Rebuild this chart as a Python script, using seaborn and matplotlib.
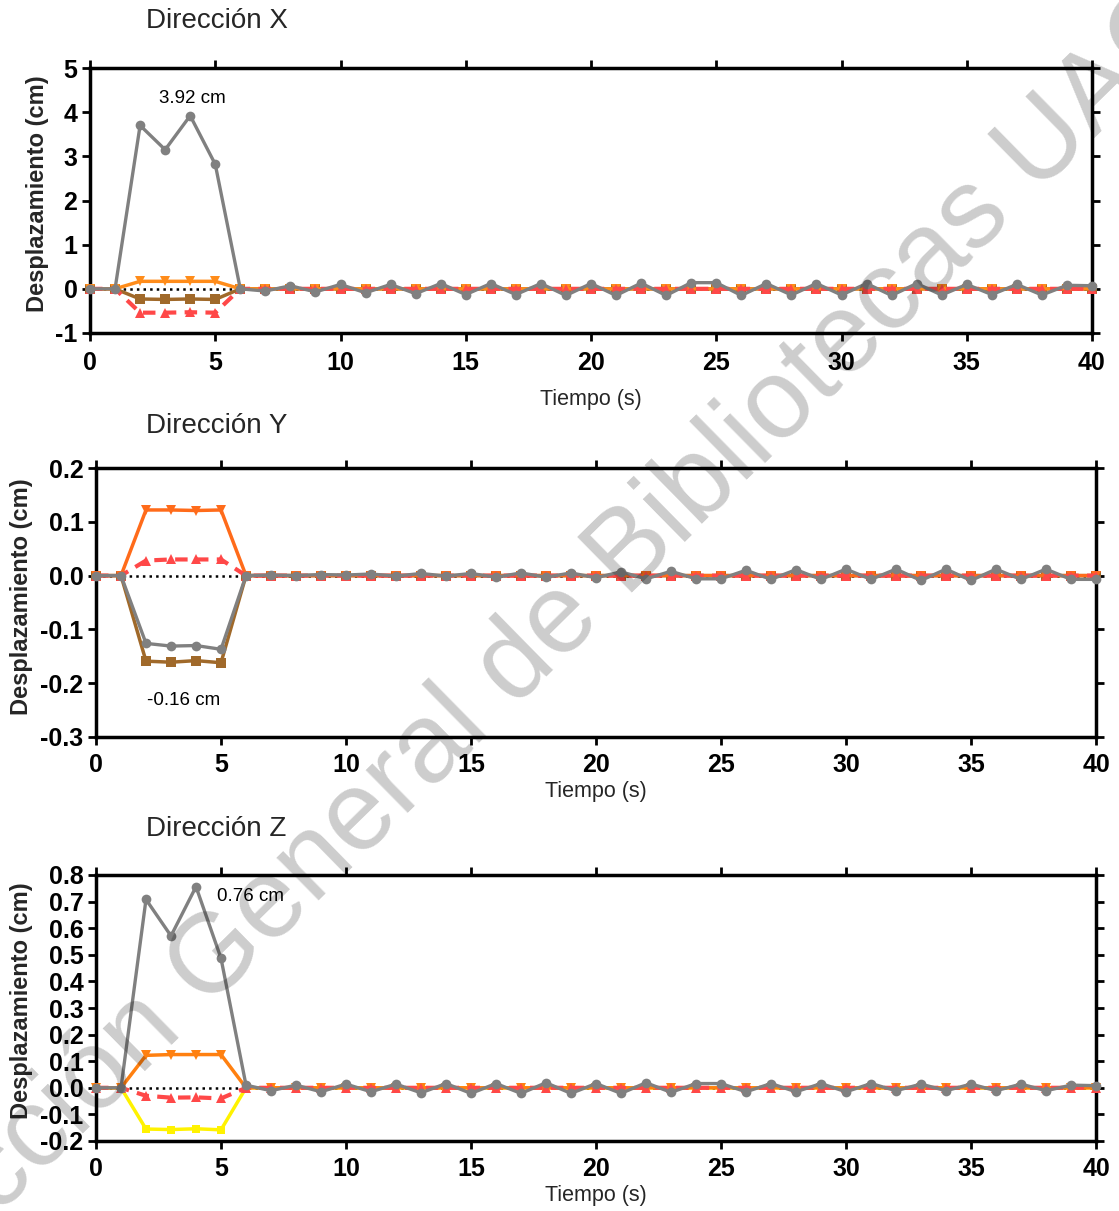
import matplotlib
matplotlib.use("Agg")
import matplotlib.pyplot as plt
import seaborn as sns

# ---------------- data ----------------
t = [0, 1, 2, 3, 4, 5, 6, 7, 8, 9, 10, 11, 12, 13, 14, 15, 16, 17, 18, 19, 20,
     21, 22, 23, 24, 25, 26, 27, 28, 29, 30, 31, 32, 33, 34, 35, 36, 37, 38, 39, 40]

# Dirección X
x_gray = [0, 0, 3.70, 3.15, 3.92, 2.82, 0.0, -0.05, 0.07, -0.07, 0.10, -0.09, 0.10, -0.11,
          0.12, -0.13, 0.12, -0.13, 0.12, -0.15, 0.12, -0.15, 0.13, -0.15, 0.14, 0.14,
          -0.15, 0.12, -0.14, 0.12, -0.14, 0.12, -0.15, 0.12, -0.14, 0.10, -0.13, 0.10,
          -0.14, 0.08, 0.07]
x_orange = [0, 0, 0.17, 0.17, 0.17, 0.17, 0, 0, 0, 0, 0, 0, 0, 0, 0, 0, 0, 0, 0, 0, 0,
            0, 0, 0, 0, 0, 0, 0, 0, 0, 0, 0, 0, 0, 0, 0, 0, 0, 0, 0, 0]
x_brown = [0, 0, -0.23, -0.24, -0.23, -0.24, 0, 0, 0, 0, 0, 0, 0, 0, 0, 0, 0, 0, 0, 0, 0,
           0, 0, 0, 0, 0, 0, 0, 0, 0, 0, 0, 0, 0, 0, 0, 0, 0, 0, 0, 0]
x_red = [0, 0, -0.54, -0.54, -0.53, -0.54, 0, 0, 0, 0, 0, 0, 0, 0, 0, 0, 0, 0, 0, 0, 0,
         0, 0, 0, 0, 0, 0, 0, 0, 0, 0, 0, 0, 0, 0, 0, 0, 0, 0, 0, 0]

# Dirección Y
y_gray = [0, 0, -0.126, -0.131, -0.130, -0.137, 0.0, 0.001, 0.0, 0.002, 0.001, 0.003,
          -0.001, 0.004, -0.001, 0.004, -0.003, 0.005, -0.003, 0.005, -0.004, 0.007,
          -0.006, 0.008, -0.006, -0.006, 0.010, -0.007, 0.011, -0.007, 0.012, -0.007,
          0.012, -0.009, 0.012, -0.009, 0.012, -0.007, 0.012, -0.007, -0.007]
y_orange = [0, 0, 0.122, 0.122, 0.121, 0.122, 0, 0, 0, 0, 0, 0, 0, 0, 0, 0, 0, 0, 0, 0, 0,
            0, 0, 0, 0, 0, 0, 0, 0, 0, 0, 0, 0, 0, 0, 0, 0, 0, 0, 0, 0]
y_brown = [0, 0, -0.159, -0.161, -0.158, -0.162, 0, 0, 0, 0, 0, 0, 0, 0, 0, 0, 0, 0, 0, 0, 0,
           0, 0, 0, 0, 0, 0, 0, 0, 0, 0, 0, 0, 0, 0, 0, 0, 0, 0, 0, 0]
y_red = [0, 0, 0.028, 0.030, 0.030, 0.030, 0, 0, 0, 0, 0, 0, 0, 0, 0, 0, 0, 0, 0, 0, 0,
         0, 0, 0, 0, 0, 0, 0, 0, 0, 0, 0, 0, 0, 0, 0, 0, 0, 0, 0, 0]

# Dirección Z
z_gray = [0, 0, 0.708, 0.571, 0.756, 0.487, 0.010, -0.011, 0.010, -0.015, 0.014, -0.015,
          0.014, -0.019, 0.016, -0.021, 0.016, -0.021, 0.019, -0.021, 0.016, -0.021,
          0.019, -0.017, 0.016, 0.016, -0.015, 0.016, -0.015, 0.016, -0.015, 0.016,
          -0.011, 0.014, -0.011, 0.014, -0.011, 0.014, -0.011, 0.010, 0.008]
z_orange = [0, 0, 0.122, 0.125, 0.125, 0.125, 0, 0, 0, 0, 0, 0, 0, 0, 0, 0, 0, 0, 0, 0, 0,
            0, 0, 0, 0, 0, 0, 0, 0, 0, 0, 0, 0, 0, 0, 0, 0, 0, 0, 0, 0]
z_yellow = [0, 0, -0.155, -0.157, -0.154, -0.158, 0, 0, 0, 0, 0, 0, 0, 0, 0, 0, 0, 0, 0, 0, 0,
            0, 0, 0, 0, 0, 0, 0, 0, 0, 0, 0, 0, 0, 0, 0, 0, 0, 0, 0, 0]
z_red = [0, 0, -0.030, -0.037, -0.036, -0.040, 0, 0, 0, 0, 0, 0, 0, 0, 0, 0, 0, 0, 0, 0, 0,
         0, 0, 0, 0, 0, 0, 0, 0, 0, 0, 0, 0, 0, 0, 0, 0, 0, 0, 0, 0]
zero_line = [0, 0, 0, 0, 0, 0, 0, 0, 0, 0, 0, 0, 0, 0, 0, 0, 0, 0, 0, 0, 0,
             0, 0, 0, 0, 0, 0, 0, 0, 0, 0, 0, 0, 0, 0, 0, 0, 0, 0, 0, 0]

x_ticks = [0, 5, 10, 15, 20, 25, 30, 35, 40]
x_ticklabels = ["0", "5", "10", "15", "20", "25", "30", "35", "40"]
yx_ticks = [-1, 0, 1, 2, 3, 4, 5]
yx_labels = ["-1", "0", "1", "2", "3", "4", "5"]
yy_ticks = [-0.3, -0.2, -0.1, 0.0, 0.1, 0.2]
yy_labels = ["-0.3", "-0.2", "-0.1", "0.0", "0.1", "0.2"]
yz_ticks = [-0.2, -0.1, 0.0, 0.1, 0.2, 0.3, 0.4, 0.5, 0.6, 0.7, 0.8]
yz_labels = ["-0.2", "-0.1", "0.0", "0.1", "0.2", "0.3", "0.4", "0.5", "0.6", "0.7", "0.8"]

titles = ["Dirección X", "Dirección Y", "Dirección Z"]
annotations = [("3.92 cm", 4.07, 4.30), ("-0.16 cm", 3.52, -0.232), ("0.76 cm", 6.17, 0.72)]
xlabel = "Tiempo (s)"
ylabel = "Desplazamiento (cm)"
watermark = "Dirección General de Bibliotecas UAQ"

# ---------------- style ----------------
sns.set_style("ticks")
plt.rcParams["font.family"] = ["Liberation Sans", "DejaVu Sans"]
plt.rcParams["axes.unicode_minus"] = False

GRAY = "#808080"
BROWN = "#A0692A"
RED = "#FF4848"
YELLOW = "#FFF200"

W, H = 1119, 1211
fig = plt.figure(figsize=(W / 100, H / 100), dpi=100)

def fx(px):
    return px / W

def fy(py):
    return 1 - py / H

ax_x = fig.add_axes([fx(90), fy(333), fx(1092) - fx(90), fy(68) - fy(333)])
ax_y = fig.add_axes([fx(96), fy(737), fx(1096) - fx(96), fy(468) - fy(737)])
ax_z = fig.add_axes([fx(96), fy(1141), fx(1096) - fx(96), fy(875) - fy(1141)])


def line(ax, vals, color, marker, ms, lw, ls="-", z=3):
    sns.lineplot(x=t, y=vals, ax=ax, color=color, marker=marker, markersize=ms,
                 linewidth=lw, linestyle=ls, markeredgewidth=0, clip_on=False,
                 zorder=z, legend=False, sort=False, estimator=None, errorbar=None)


panels = [
    (ax_x, [(zero_line, "black", None, 0, 1.8, ":", 2),
            (x_brown, BROWN, "s", 6.5, 2.5, "-", 3),
            (x_orange, "#FF8C1A", "v", 7.5, 2.5, "-", 4),
            (x_red, RED, "^", 7.5, 3.0, (0, (3, 2)), 5),
            (x_gray, GRAY, "o", 7, 2.4, "-", 6)],
     (-1, 5), yx_ticks, yx_labels, 7),
    (ax_y, [(zero_line, "black", None, 0, 1.8, ":", 2),
            (y_brown, BROWN, "s", 6.5, 2.5, "-", 3),
            (y_orange, "#FF6B1A", "v", 7.5, 2.5, "-", 4),
            (y_red, RED, "^", 7.5, 3.0, (0, (3, 2)), 5),
            (y_gray, GRAY, "o", 7, 2.4, "-", 6)],
     (-0.3, 0.2), yy_ticks, yy_labels, 5.5),
    (ax_z, [(zero_line, "black", None, 0, 1.8, ":", 2),
            (z_yellow, YELLOW, "s", 5.5, 2.5, "-", 3),
            (z_orange, "#FF8010", "v", 7.5, 2.5, "-", 4),
            (z_red, RED, "^", 7.5, 3.0, (0, (3, 2)), 5),
            (z_gray, GRAY, "o", 7, 2.4, "-", 6)],
     (-0.2, 0.8), yz_ticks, yz_labels, 5.5),
]

for ax, series, ylim, yt, yl, xpad in panels:
    for vals, color, marker, ms, lw, ls, z in series:
        line(ax, vals, color, marker, ms, lw, ls, z)
    ax.set_xlim(0, 40)
    ax.set_ylim(*ylim)
    ax.set_xticks(x_ticks)
    ax.set_xticklabels(x_ticklabels, fontsize=18, fontweight="bold")
    ax.set_yticks(yt)
    ax.set_yticklabels(yl, fontsize=18, fontweight="bold")
    ax.set_xlabel("")
    ax.set_ylabel("")
    ax.tick_params(direction="out", length=6, width=2, top=True, right=True,
                   labeltop=False, labelright=False, pad=3, colors="black")
    ax.tick_params(axis="x", pad=xpad)
    for s in ax.spines.values():
        s.set_linewidth(2.5)
        s.set_color("black")
        s.set_visible(True)

# annotations
for ax, (txt, xv, yv) in zip([ax_x, ax_y, ax_z], annotations):
    ax.text(xv, yv, txt, fontsize=13.5, ha="center", va="center", color="black")

# titles
for txt, py in zip(titles, [21, 426, 829]):
    fig.text(fx(146), fy(py), txt, fontsize=20, ha="left", va="center")

# axis labels
for px, py in [(38, 194), (22, 597), (22, 1001)]:
    fig.text(fx(px), fy(py), ylabel, fontsize=17, fontweight="bold", rotation=90,
             ha="center", va="center")
for px, py in [(591, 400), (596, 792), (596, 1195)]:
    fig.text(fx(px), fy(py), xlabel, fontsize=15.5, ha="center", va="center")

# watermark
fig.text(fx(510), fy(672), watermark, fontsize=81, rotation=44.5, color="black",
         alpha=0.2, ha="center", va="center", rotation_mode="anchor", zorder=20)

fig.savefig("out.png", dpi=100)
